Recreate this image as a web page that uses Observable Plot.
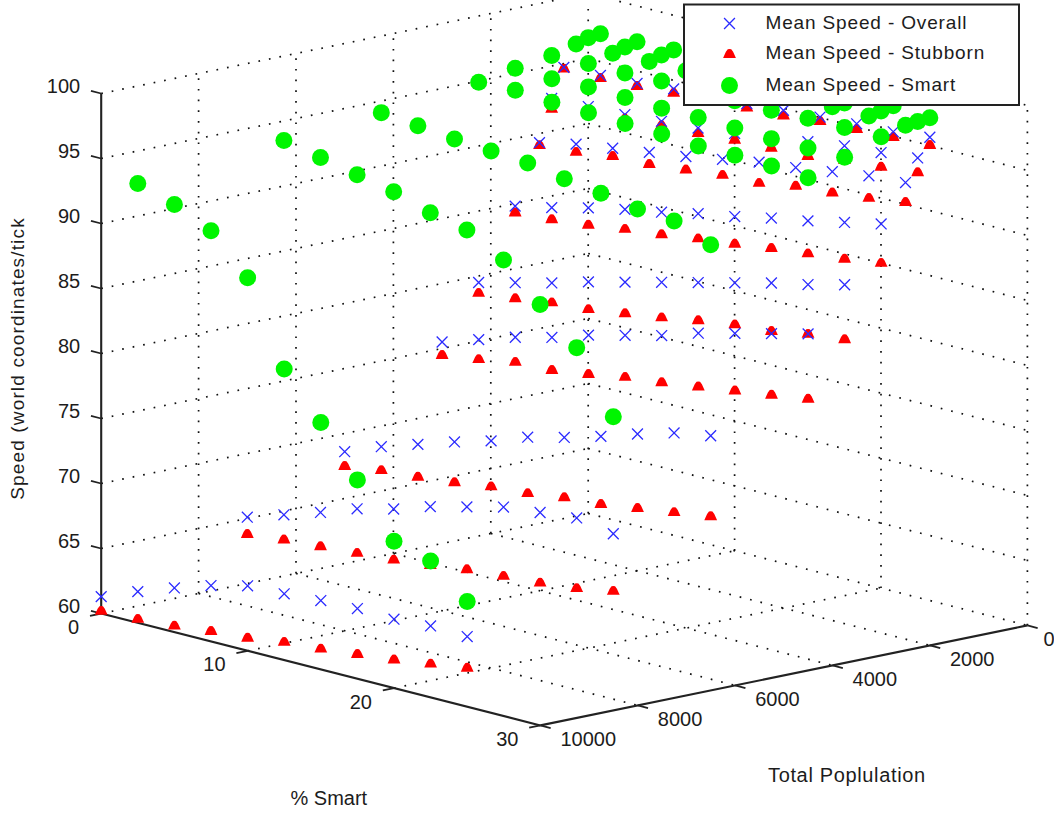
<!DOCTYPE html>
<html>
<head>
<meta charset="utf-8">
<script src="https://cdn.jsdelivr.net/npm/d3@7"></script>
<script src="https://cdn.jsdelivr.net/npm/@observablehq/plot@0.6"></script>
<style>
  html, body { margin: 0; padding: 0; background: #fff; overflow: hidden; }
  svg { display: block; }
  .wide { letter-spacing: 0.85px; }
  .widest { letter-spacing: 1.15px; }
  .title { letter-spacing: 0.65px; }
</style>
</head>
<body>
<script>
// ---- chart values ----
const smartLevels = [0, 2.5, 5, 7.5, 10, 12.5, 15, 17.5, 20, 22.5, 25];
const populations = [10000, 7000, 5000, 3000, 2250, 1500, 1000, 750, 500];

const overallSpeed = [
  [61.3, 62.4, 63.4, 64.3, 65.0, 65.1, 65.3, 65.4, 65.3, 65.5, 65.4],
  [65.1, 66.0, 66.9, 67.9, 68.6, 69.5, 70.2, 70.9, 71.2, 71.5, 71.0],
  [68.6, 69.7, 70.6, 71.5, 72.3, 73.3, 74.0, 74.8, 75.7, 76.5, 77.0],
  [75.5, 76.4, 77.3, 78.0, 78.9, 79.6, 80.3, 81.2, 81.9, 82.6, 83.3],
  [79.5, 80.2, 80.9, 81.7, 82.4, 83.1, 83.8, 84.5, 85.2, 85.8, 86.5],
  [84.8, 85.4, 86.1, 86.7, 87.2, 87.8, 88.3, 88.9, 89.4, 90.0, 90.6],
  [89.3, 89.9, 90.3, 90.7, 91.1, 91.6, 92.1, 92.4, 92.8, 93.2, 93.4],
  [92.5, 92.6, 92.7, 92.9, 93.1, 93.4, 93.8, 94.2, 94.6, 94.8, 95.1],
  [94.7, 94.8, 94.9, 95.2, 95.3, 95.5, 95.7, 95.9, 96.1, 96.2, 96.5]
];
const stubbornSpeed = [
  [60.2, 60.3, 60.5, 60.8, 61.0, 61.4, 61.6, 61.9, 62.2, 62.6, 63.0],
  [63.8, 64.1, 64.3, 64.5, 64.7, 65.0, 65.4, 65.6, 65.8, 66.1, 66.6],
  [67.5, 67.9, 68.1, 68.4, 68.8, 69.0, 69.4, 69.6, 70.0, 70.4, 70.8],
  [74.5, 74.9, 75.4, 75.5, 75.9, 76.4, 76.7, 77.1, 77.5, 77.9, 78.3],
  [78.7, 79.0, 79.4, 79.6, 80.0, 80.4, 80.9, 81.3, 81.5, 82.0, 82.3],
  [84.3, 84.5, 84.8, 85.2, 85.5, 85.9, 86.2, 86.6, 86.9, 87.2, 87.6],
  [89.1, 89.3, 89.7, 89.8, 90.1, 90.4, 90.5, 91.0, 91.2, 91.5, 91.9],
  [91.7, 92.1, 92.4, 92.6, 92.7, 92.9, 93.0, 93.1, 93.5, 93.7, 94.0],
  [94.6, 94.6, 94.7, 94.9, 95.0, 95.2, 95.3, 95.6, 95.7, 95.8, 95.9]
];
const smartSpeed = [
  [null, 93.8, 92.9, 91.6, 88.7, 82.4, 79.0, 75.3, 71.3, 70.5, 68.1],
  [null, 94.8, 94.2, 93.6, 93.0, 92.1, 91.5, 89.9, 87.2, 84.6, 80.0],
  [null, 95.4, 95.1, 94.8, 94.6, 94.4, 93.9, 93.5, 93.0, 92.8, 91.7],
  [null, 96.2, 96.3, 96.1, 96.0, 95.9, 95.8, 95.6, 95.6, 95.5, 95.3],
  [null, 96.7, 96.6, 96.7, 96.6, 96.5, 96.5, 96.4, 96.3, 96.3, 96.3],
  [null, 97.1, 97.2, 97.2, 97.3, 97.3, 97.2, 97.2, 97.3, 97.3, 97.3],
  [null, 97.6, 97.6, 97.7, 97.7, 97.7, 97.8, 97.8, 97.8, 97.8, 97.8],
  [null, 97.9, 97.9, 98.0, 98.0, 98.0, 98.0, 98.0, 97.9, 98.0, 97.9],
  [null, 98.0, 98.1, 98.2, 98.2, 98.2, 98.2, 98.3, 98.2, 98.2, 98.0]
];

const smartTicks = [0, 10, 20, 30];
const popTicks = [0, 2000, 4000, 6000, 8000, 10000];
const speedTicks = [60, 65, 70, 75, 80, 85, 90, 95, 100];
const legendLabels = ["Mean Speed - Overall", "Mean Speed - Stubborn", "Mean Speed - Smart"];

const xTitle = "% Smart";
const yTitle = "Total Poplulation";
const zTitle = "Speed (world coordinates/tick";

// ---- MATLAB-style orthographic view: world -> view plane ----
const view = {x0: 100.7, y0: 613, xs: 14.64, ys: 3.73, xp: 0.0487, yp: 0.01, zs: 13};
const px = (s, p) => view.x0 + view.xs * s + view.xp * (10000 - p);
const py = (s, p, z) => view.y0 + view.ys * s - view.yp * (10000 - p) - view.zs * (z - 60);

function table(values) {
  const out = [];
  values.forEach((row, r) => row.forEach((v, i) => {
    if (v != null) out.push({s: smartLevels[i], p: populations[r], z: v});
  }));
  return out;
}
const X = d => px(d.s, d.p);
const Y = d => py(d.s, d.p, d.z);

// ---- box grid and axes ----
const grid = [];
const seg = (s1, p1, z1, s2, p2, z2) => grid.push({s1, p1, z1, s2, p2, z2});
for (const z of speedTicks) { seg(0, 10000, z, 0, 0, z); seg(0, 0, z, 30, 0, z); }
for (const p of popTicks) if (p < 10000) seg(0, p, 60, 0, p, 100);
for (const s of smartTicks) if (s > 0) seg(s, 0, 60, s, 0, 100);
for (const s of smartTicks) if (s > 0 && s < 30) seg(s, 10000, 60, s, 0, 60);
for (const p of popTicks) if (p > 0 && p < 10000) seg(0, p, 60, 30, p, 60);

const axes = [
  {s1: 0, p1: 10000, z1: 60, s2: 0, p2: 10000, z2: 100},
  {s1: 0, p1: 10000, z1: 60, s2: 30, p2: 10000, z2: 60},
  {s1: 30, p1: 10000, z1: 60, s2: 30, p2: 0, z2: 60}
];
const tickLen = {s: 0.7, p: 230};
const ticks = [
  ...speedTicks.map(z => ({s1: 0, p1: 10000, z1: z, s2: -tickLen.s, p2: 10000, z2: z})),
  ...smartTicks.map(s => ({s1: s, p1: 10000, z1: 60, s2: s, p2: 10000 + tickLen.p, z2: 60})),
  ...popTicks.map(p => ({s1: 30, p1: p, z1: 60, s2: 30 + tickLen.s, p2: p, z2: 60}))
];
const linkOpts = {
  x1: d => px(d.s1, d.p1), y1: d => py(d.s1, d.p1, d.z1),
  x2: d => px(d.s2, d.p2), y2: d => py(d.s2, d.p2, d.z2)
};

// dome-shaped filled marker of the original
const domeOutline = [[1.28, 0.78], [1.08, 0.35], [0.72, -0.45], [0.35, -0.95], [0, -1.0]];
const dome = {
  draw(ctx, size) {
    const r = Math.sqrt(size / Math.PI);
    ctx.moveTo(-domeOutline[0][0] * r, domeOutline[0][1] * r);
    for (const [a, b] of domeOutline) ctx.lineTo(a * r, b * r);
    for (const [a, b] of domeOutline.slice().reverse()) ctx.lineTo(-a * r, b * r);
    ctx.closePath();
  }
};

const blue = "#2a2aff", red = "#ff0000", green = "#00f500", ink = "#1c1c1c";
const font = 20;

// legend layout in view units
const lg = {x1: 684, x2: 1019, y1: 4.5, y2: 105, key: 729, label: 765, rows: [23, 53.5, 85]};

const chart = Plot.plot({
  width: 1054, height: 815,
  marginTop: 0, marginRight: 0, marginBottom: 0, marginLeft: 0,
  x: {domain: [0, 1054], range: [0, 1054], axis: null},
  y: {domain: [0, 815], range: [0, 815], axis: null},
  style: {fontFamily: "'Liberation Sans', Arial, sans-serif", background: "#fff"},
  marks: [
    Plot.link(grid, {...linkOpts, stroke: "#111", strokeWidth: 1.7, strokeDasharray: "1.7,9"}),
    Plot.link(axes, {...linkOpts, stroke: "#222", strokeWidth: 2.1}),
    Plot.link(ticks, {...linkOpts, stroke: "#222", strokeWidth: 1.8}),

    Plot.text(speedTicks, {x: () => px(0, 10000), y: z => py(0, 10000, z), text: z => String(z), dx: -21, dy: -6.5, textAnchor: "end", fontSize: font, fill: ink}),
    Plot.text(smartTicks, {x: s => px(s, 10000), y: s => py(s, 10000, 60), text: s => String(s), dx: -22, dy: 14, textAnchor: "end", fontSize: font, fill: ink}),
    Plot.text(popTicks, {x: p => px(30, p) - (p === 0 ? 4 : 0), y: p => py(30, p, 60), text: p => String(p), dx: 20, dy: 14.5, textAnchor: "start", fontSize: font, fill: ink}),

    Plot.text([xTitle], {x: () => px(15, 10000), y: () => py(15, 10000, 60), text: d => d, dx: 8, dy: 129, fontSize: font, fill: ink}),
    Plot.text([yTitle], {x: () => px(30, 5000), y: () => py(30, 5000, 60), text: d => d, dx: 63, dy: 100, fontSize: font, fill: ink, className: "title"}),
    Plot.text([zTitle], {x: () => px(0, 10000), y: () => py(0, 10000, 80), text: d => d, dx: -83, dy: 5, rotate: -90, fontSize: font - 1, fill: ink, className: "widest"}),

    Plot.dot(table(stubbornSpeed), {x: X, y: Y, symbol: dome, r: 5, fill: red}),
    Plot.dot(table(overallSpeed), {x: X, y: Y, symbol: "times", r: 5, stroke: blue, strokeWidth: 1.3}),
    Plot.dot(table(smartSpeed), {x: X, y: Y, r: 8.5, fill: green}),

    Plot.rect([lg], {x1: d => d.x1, x2: d => d.x2, y1: d => d.y1, y2: d => d.y2, fill: "#fff", stroke: "#222", strokeWidth: 2}),
    Plot.dot([lg], {x: d => d.key, y: d => d.rows[0], symbol: "times", r: 5, stroke: blue, strokeWidth: 1.3}),
    Plot.dot([lg], {x: d => d.key, y: d => d.rows[1], symbol: dome, r: 5, fill: red}),
    Plot.dot([lg], {x: d => d.key, y: d => d.rows[2], r: 8.5, fill: green}),
    Plot.text(legendLabels, {x: () => lg.label, y: (d, i) => lg.rows[i] - 1, text: d => d, textAnchor: "start", fontSize: font - 1, fill: ink, className: "wide"})
  ]
});
document.body.appendChild(chart);
</script>
</body>
</html>
